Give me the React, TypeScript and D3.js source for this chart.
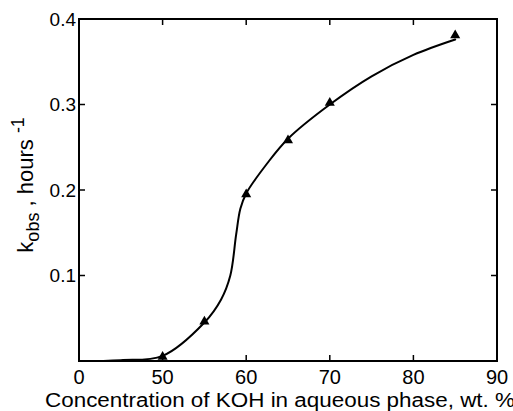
import React from 'react'
import * as d3 from 'd3'

// measured points (triangles)
const concKOH = [50, 55, 60, 65, 70, 85]
const kObs = [0.005, 0.046, 0.195, 0.258, 0.302, 0.381]

// hand drawn curve through the points
const curveX = [40, 45, 50, 55, 57, 58.1, 58.8, 59.3, 60, 62.5, 65, 70, 75, 80, 85]
const curveY = [0, 0.001, 0.006, 0.045, 0.072, 0.1, 0.148, 0.178, 0.196, 0.231, 0.26, 0.3, 0.333, 0.358, 0.376]

// x axis is broken: first label "0" sits where 40 would be
const xTickValues = [40, 50, 60, 70, 80, 90]
const xTickLabels = ['0', '50', '60', '70', '80', '90']
const yTickValues = [0.1, 0.2, 0.3, 0.4]
const yTickLabels = ['0.1', '0.2', '0.3', '0.4']

const App = () => {
  const width = 513
  const height = 411
  const margin = { top: 19, right: 16, bottom: 50, left: 79 }
  const innerWidth = width - margin.left - margin.right
  const innerHeight = height - margin.top - margin.bottom

  const xScale = d3.scaleLinear().domain([40, 90]).range([0, innerWidth])
  const yScale = d3.scaleLinear().domain([0, 0.4]).range([innerHeight, 0])

  const line = d3.line<number>()
    .x((d, i) => xScale(curveX[i]))
    .y(d => yScale(d))
    .curve(d3.curveCatmullRom.alpha(0.5))(curveY)

  const tri = d3.symbol().type(d3.symbolTriangle).size(44)()

  const font = '"Liberation Sans", Arial, sans-serif'
  const tickLen = 6

  // ticks (inward, on all four sides)
  const xTicks = xTickValues.slice(1, -1).map(v => (
    <g key={v} transform={`translate(${xScale(v)},0)`}>
      <line y1={innerHeight} y2={innerHeight - tickLen} stroke='black' strokeWidth={1.5} />
      <line y1={0} y2={tickLen} stroke='black' strokeWidth={1.5} />
    </g>
  ))
  const yTicks = yTickValues.slice(0, -1).map(v => (
    <g key={v} transform={`translate(0,${yScale(v)})`}>
      <line x1={0} x2={tickLen} stroke='black' strokeWidth={1.5} />
      <line x1={innerWidth} x2={innerWidth - tickLen} stroke='black' strokeWidth={1.5} />
    </g>
  ))

  const xLabels = xTickValues.map((v, i) => (
    <text key={v} x={xScale(v)} y={innerHeight + 23} textAnchor='middle'
      fontSize={20} fontFamily={font}>{xTickLabels[i]}</text>
  ))
  const yLabels = yTickValues.map((v, i) => (
    <text key={v} x={-3} y={yScale(v)} dy='.35em' textAnchor='end'
      fontSize={19} fontFamily={font}>{yTickLabels[i]}</text>
  ))

  return (
    <svg width={width} height={height} style={{ position: 'absolute', left: 0, top: 0, background: 'white' }}>
      <g transform={`translate(${margin.left},${margin.top})`}>
        <rect x={0} y={0} width={innerWidth} height={innerHeight} fill='none' stroke='black' strokeWidth={2} />
        {xTicks}
        {yTicks}
        {xLabels}
        {yLabels}
        <path d={line ?? ''} fill='none' stroke='black' strokeWidth={2} strokeLinejoin='round' strokeLinecap='round' />
        <g className='points'>
          {concKOH.map((c, i) => (
            <path key={c} d={tri ?? ''} transform={`translate(${xScale(c)},${yScale(kObs[i])})`} fill='black' />
          ))}
        </g>
        <text x={-34} y={innerHeight + 46} textAnchor='start'
          fontSize={20} fontFamily={font} textLength={470} lengthAdjust='spacingAndGlyphs'>
          Concentration of KOH in aqueous phase, wt. %
        </text>
        <text transform={`translate(-46,${yScale(0.206)}) rotate(-90)`} textAnchor='middle'
          fontSize={22} fontFamily={font}>
          k<tspan fontSize={18} dy={6}>obs</tspan><tspan dy={-6}> , hours </tspan><tspan fontSize={18} dy={-9}>-1</tspan>
        </text>
      </g>
    </svg>
  )
}

export default App
